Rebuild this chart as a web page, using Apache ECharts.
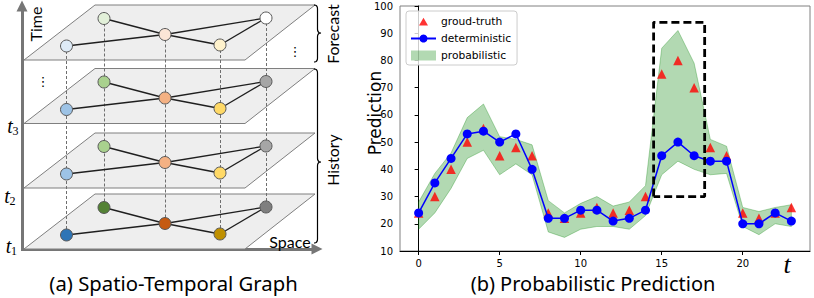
<!DOCTYPE html>
<html><head><meta charset="utf-8">
<script src="https://cdn.jsdelivr.net/npm/echarts@6/dist/echarts.min.js"></script>
<style>html,body{margin:0;padding:0;background:#fff}#c{width:814px;height:298px}</style>
</head><body><div id="c"></div>
<script>
// ---------- (b) chart data ----------
const tValues = [0,1,2,3,4,5,6,7,8,9,10,11,12,13,14,15,16,17,18,19,20,21,22,23];
const groundTruth   = [24,30,40,50,55,45,48,45,24,22,24,26,24,25,30,75,80,70,48,45,24,22,24,26];
const deterministic = [24,35,44,53,54,50,53,40,22,22,25,25,21,22,25,45,50,45,43,43,20,20,24,21];
const probLower     = [18,24,33,44,47,38,42,38,17,15,18,19,19,18,23,38,43,40,38,38.5,19,16,20,19];
const probUpper     = [28,38.5,46,59,64,52,51,49,28.5,24,27.5,30,26.5,28,34,84.5,91,79,51,48.5,26,24.5,26,27];
const highlightT = [14.5, 17.65];
const highlightV = [30, 94];
const xTickValues = [0,5,10,15,20];
const seriesNames = ['groud-truth','deterministic','probabilistic'];

// ---------- (a) diagram data ----------
const layerBase = [60, 123.5, 188, 249];
const nodeX  = [66.5, 104, 165, 220, 266];
const nodeDy = [-14, -41.5, -25.5, -15, -42];
const layerColors = [
  ['#deebf7','#e2f0d9','#fbe5d6','#fff2cc','#ffffff'],
  ['#9dc3e6','#a9d18e','#f4b183','#ffd966','#a6a6a6'],
  ['#9dc3e6','#a9d18e','#f4b183','#ffd966','#a6a6a6'],
  ['#2e75b6','#548235','#c55a11','#bf9000','#7f7f7f']
];
const edges = [[0,2],[1,2],[2,4],[2,3],[3,4]];
const braces = [[314, 5, 33, 62], [314, 69, 162, 243]];

const chart = echarts.init(document.getElementById('c'), null, {renderer:'svg'});

function xy(arr){ return tValues.map((t,i)=>[t, arr[i]]); }

function quad(p0, c, p1, out){
  for (let k=1;k<=8;k++){ const s=k/8;
    out.push([(1-s)*(1-s)*p0[0]+2*(1-s)*s*c[0]+s*s*p1[0], (1-s)*(1-s)*p0[1]+2*(1-s)*s*c[1]+s*s*p1[1]]); }
}
function bracePoints(x0, yTop, yTip, yBot){
  const x1 = x0+3.5, x2 = x0+7, r = 4;
  const pts = [[x0,yTop]];
  quad([x0,yTop],[x1,yTop],[x1,yTop+r],pts);
  pts.push([x1,yTip-r]);
  quad([x1,yTip-r],[x1,yTip],[x2,yTip],pts);
  quad([x2,yTip],[x1,yTip],[x1,yTip+r],pts);
  pts.push([x1,yBot-r]);
  quad([x1,yBot-r],[x1,yBot],[x0,yBot],pts);
  return pts;
}

const bandColor = 'rgba(0,128,0,0.3)';
const series = [];
// probabilistic band as one polygon through the axes' scales
series.push({type:'custom', name:'probabilistic', coordinateSystem:'cartesian2d', xAxisIndex:0, yAxisIndex:0,
  data: tValues.map((t,i)=>[t, probLower[i], probUpper[i]]),
  encode:{x:0, y:[1,2]},
  itemStyle:{color:bandColor}, z:1, silent:true,
  renderItem:function(params, api){
    if (params.dataIndex !== 0) return null;
    const n = params.dataInsideLength;
    const up = [], lo = [];
    for (let i=0;i<n;i++){
      up.push(api.coord([api.value(0,i), api.value(2,i)]));
      lo.push(api.coord([api.value(0,i), api.value(1,i)]));
    }
    return {type:'polygon', shape:{points: up.concat(lo.reverse())},
      style:{fill:bandColor, stroke:bandColor, lineWidth:1}};
  }});
series.push({type:'scatter', name:'groud-truth', data: xy(groundTruth), symbol:'triangle', symbolSize:9.5,
  itemStyle:{color:'#ff0000'}, z:2});
series.push({type:'line', name:'deterministic', data: xy(deterministic), symbol:'circle', symbolSize:9, showSymbol:true,
  itemStyle:{color:'#0000ff'}, lineStyle:{color:'#0000ff', width:1.5}, z:3});
series.push({type:'line', name:'_box', data:[[highlightT[0],highlightV[0]],[highlightT[0],highlightV[1]],[highlightT[1],highlightV[1]],[highlightT[1],highlightV[0]],[highlightT[0],highlightV[0]]],
  symbol:'none', lineStyle:{color:'#000', width:2.8, type:[8,4]}, z:4, silent:true});

// diagram: axes arrows
series.push({type:'lines', coordinateSystem:'cartesian2d', xAxisIndex:1, yAxisIndex:1, silent:true, z:0,
  symbol:['none','triangle'], symbolSize:[10,11],
  lineStyle:{color:'#767676', width:3, opacity:1},
  data:[{coords:[[22,250],[22,6]]},{coords:[[21,249],[317,249]]}]});
// planes
series.push({type:'custom', coordinateSystem:'cartesian2d', xAxisIndex:1, yAxisIndex:1, silent:true, z:1,
  data: layerBase.map(b=>[24,b]),
  renderItem:function(params, api){
    const x0 = api.value(0), b = api.value(1);
    const pts = [[x0,b],[x0+221,b],[x0+291,b-55],[x0+71,b-55]].map(p=>api.coord(p));
    return {type:'polygon', shape:{points:pts}, style:{fill:'#eeeeee', stroke:'#7f7f7f', lineWidth:1}};
  }});
// dashed verticals
series.push({type:'lines', coordinateSystem:'cartesian2d', xAxisIndex:1, yAxisIndex:1, silent:true, z:2,
  lineStyle:{color:'#6e6e6e', width:1, type:[3,2], opacity:1},
  data: nodeX.map((x,i)=>({coords:[[x, layerBase[0]+nodeDy[i]],[x, layerBase[3]+nodeDy[i]]]}))});
// graphs per layer
layerBase.forEach((b, li)=>{
  series.push({type:'graph', coordinateSystem:'cartesian2d', xAxisIndex:1, yAxisIndex:1, layout:'none', silent:true, z:3,
    symbol:'circle', symbolSize:12,
    data: nodeX.map((x,i)=>({name:'n'+li+'_'+i, value:[x, b+nodeDy[i]], itemStyle:{color:layerColors[li][i], borderColor:'#595959', borderWidth:1}})),
    links: edges.map(e=>({source:e[0], target:e[1]})),
    lineStyle:{color:'#1f1f1f', width:1.3, opacity:1, curveness:0},
    label:{show:false}, emphasis:{disabled:true}});
});
// braces
series.push({type:'custom', coordinateSystem:'cartesian2d', xAxisIndex:1, yAxisIndex:1, silent:true, z:3,
  data: braces,
  renderItem:function(params, api){
    const pts = bracePoints(api.value(0), api.value(1), api.value(2), api.value(3)).map(p=>api.coord(p));
    return {type:'polyline', shape:{points:pts}, style:{fill:null, stroke:'#000', lineWidth:1.2}};
  }});

const txt = (x,y,text,font,extra)=>Object.assign({type:'text', x:x, y:y, silent:true, z:100,
  style:Object.assign({text:text, fill:'#000', align:'center', verticalAlign:'middle'}, font)}, extra||{});
const lato = {fontFamily:'Lato', fontSize:16};
const serifIt = {fontFamily:'Liberation Serif', fontStyle:'italic', fontSize:20};
const serifSub = {fontFamily:'Liberation Serif', fontSize:12};
// legend triangle: padded path so it keeps a small, equilateral look inside the 25x10 icon box
const legendTriangle = 'path://M0,0L0.01,0M25,10L25.01,10M8,9L12.5,1.2L17,9Z';

const option = {
  animation:false,
  backgroundColor:'#fff',
  grid:[
    {left:400, top:6, width:410, height:245, show:true, borderColor:'#808080', borderWidth:1, backgroundColor:'transparent'},
    {left:0, top:0, width:340, height:298, show:false}
  ],
  xAxis:[
    {type:'value', gridIndex:0, min:-1.15, max:24.15,
      axisLine:{show:true, lineStyle:{color:'#000', width:1}},
      axisTick:{show:true, length:4, customValues:xTickValues, lineStyle:{color:'#000'}},
      axisLabel:{customValues:xTickValues, fontSize:10, fontFamily:'DejaVu Sans', color:'#000', margin:7},
      splitLine:{show:false}},
    {type:'value', gridIndex:1, min:0, max:340, show:false}
  ],
  yAxis:[
    {type:'value', gridIndex:0, min:10, max:100, interval:10,
      axisLine:{show:true, lineStyle:{color:'#000', width:1}},
      axisTick:{show:true, length:4, lineStyle:{color:'#000'}},
      axisLabel:{fontSize:10, fontFamily:'DejaVu Sans', color:'#000', margin:7},
      splitLine:{show:false}},
    {type:'value', gridIndex:1, min:0, max:298, inverse:true, show:false}
  ],
  legend:{
    data:[{name:seriesNames[0], icon:legendTriangle},{name:seriesNames[1]},{name:seriesNames[2], icon:'rect', itemStyle:{color:bandColor}}],
    orient:'vertical', left:406, top:11, itemWidth:25, itemHeight:10, itemGap:6,
    padding:[5,6,4,4], backgroundColor:'rgba(255,255,255,0.8)', borderColor:'#cccccc', borderWidth:1, borderRadius:3,
    textStyle:{fontSize:10.7, fontFamily:'DejaVu Sans', color:'#000', lineHeight:11},
    selectedMode:false
  },
  series: series,
  graphic:{elements:[
    txt(375, 113, 'Prediction', {fontFamily:'DejaVu Sans', fontSize:17}, {rotation:Math.PI/2}),
    txt(35, 24, 'Time', lato, {rotation:Math.PI/2}),
    txt(332, 34, 'Forecast', lato, {rotation:Math.PI/2}),
    txt(332, 160, 'History', lato, {rotation:Math.PI/2}),
    txt(290, 241, 'Space', lato),
    txt(43, 81, '\u22EE', {fontFamily:'DejaVu Sans', fontSize:13}),
    txt(295, 51, '\u22EE', {fontFamily:'DejaVu Sans', fontSize:13}),
    txt(10, 126, 't', serifIt), txt(15.5, 131, '3', serifSub),
    txt(7, 196, 't', serifIt), txt(12.5, 201, '2', serifSub),
    txt(8.5, 246, 't', serifIt), txt(14, 251, '1', serifSub),
    txt(787, 264, 't', {fontFamily:'Liberation Serif', fontStyle:'italic', fontSize:26}),
    txt(173.5, 283, '(a) Spatio-Temporal Graph', {fontFamily:'Noto Sans', fontSize:20.3}),
    txt(593, 283, '(b) Probabilistic Prediction', {fontFamily:'Noto Sans', fontSize:20})
  ]}
};
chart.setOption(option);
</script></body></html>
